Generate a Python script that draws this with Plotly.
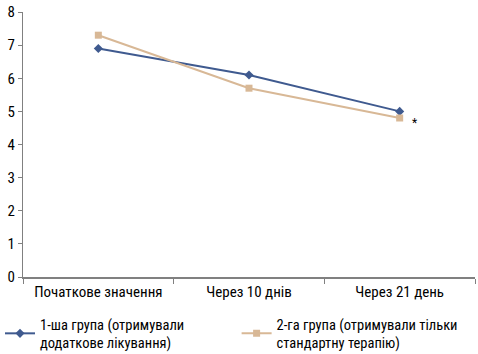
import plotly.graph_objects as go

categories = ["Початкове значення", "Через 10 днів", "Через 21 день"]
group1 = [6.9, 6.1, 5.0]
group2 = [7.3, 5.7, 4.8]
name1 = "1-ша група (отримували<br>додаткове лікування)"
name2 = "2-га група (отримували тільки<br>стандартну терапію)"
y_ticks = [0, 1, 2, 3, 4, 5, 6, 7, 8]

FONT = "Liberation Sans Narrow, Arial Narrow, Roboto Condensed, sans-serif"

fig = go.Figure()
fig.add_trace(go.Scatter(x=categories, y=group1, name=name1, mode="lines+markers",
                         line=dict(color="#3F5A8F", width=2),
                         marker=dict(symbol="diamond", size=7, color="#3F5A8F"),
                         legend="legend"))
fig.add_trace(go.Scatter(x=categories, y=group2, name=name2, mode="lines+markers",
                         line=dict(color="#D8B896", width=2),
                         marker=dict(symbol="square", size=7, color="#D8B896"),
                         legend="legend2"))

fig.add_annotation(x=categories[2], y=group2[2], text="*", showarrow=False,
                   xshift=15, yshift=-5, font=dict(size=12, color="#000"))

leg_common = dict(orientation="h", xref="container", yref="container",
                  yanchor="top", xanchor="left",
                  itemwidth=30, bgcolor="rgba(0,0,0,0)")
fig.update_layout(
    width=478, height=354,
    margin=dict(l=23, r=3, t=9, b=77),
    paper_bgcolor="white", plot_bgcolor="white",
    font=dict(family=FONT, size=15, color="#000"),
    showlegend=True,
    legend=dict(x=0.0, y=0.13, font=dict(size=14.5), **leg_common),
    legend2=dict(x=0.495, y=0.13, font=dict(size=14.5), **leg_common),
)
fig.update_xaxes(type="category", range=[-0.5, 2.5], showline=True, linecolor="#808080",
                 linewidth=1.5, ticks="outside", tickson="boundaries", ticklen=5,
                 tickcolor="#808080", showgrid=False, zeroline=False,
                 tickfont=dict(size=15))
fig.update_yaxes(range=[0, 8], tickvals=y_ticks, showline=True, linecolor="#808080",
                 linewidth=1, ticks="outside", ticklen=4, tickcolor="#808080",
                 showgrid=False, zeroline=False, tickfont=dict(size=15))

fig.write_html("out.html")
